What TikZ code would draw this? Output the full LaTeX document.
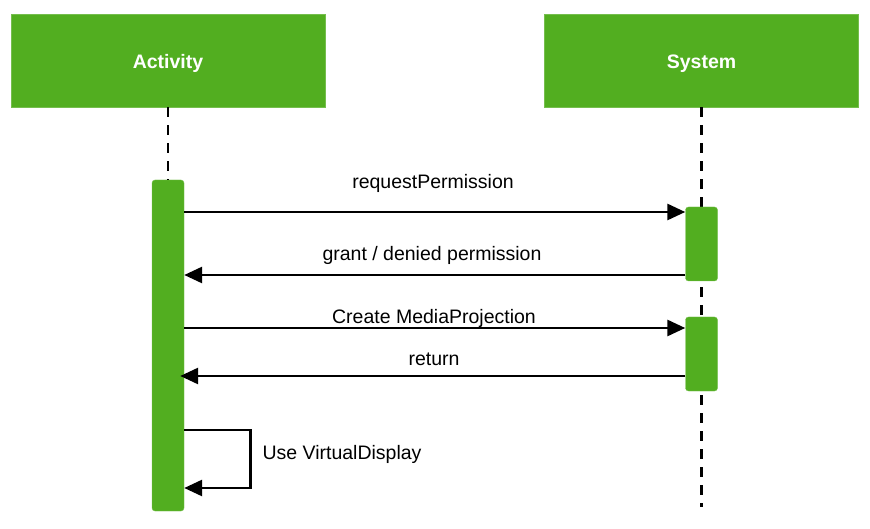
\documentclass[tikz,border=0pt]{standalone}
\usepackage{fontspec}
\setmainfont{Liberation Sans}
\usetikzlibrary{arrows.meta}

\definecolor{boxgreen}{RGB}{82,174,32}

\tikzset{
    actor/.style={fill=boxgreen, draw=boxgreen!80!white, minimum width=314pt, minimum height=93pt,
        text=white, text height=16pt, text depth=0pt, font=\fontsize{19.5}{23}\selectfont\bfseries},
    bar/.style={fill=boxgreen, draw=boxgreen!80!white, rounded corners=3pt, minimum width=32pt, inner sep=0pt},
    lifeline/.style={line width=2.8pt, dash pattern=on 10pt off 8pt},
    msg/.style={line width=2.8pt, -{Triangle[length=18pt,width=16pt]}},
    lbl/.style={font=\fontsize{19.5}{23}\selectfont}
}

\begin{document}
\begin{tikzpicture}[x=1pt, y=-1pt]
    \useasboundingbox (0,0) rectangle (870,529);

    % Kopfboxen
    \node[actor] (activity) at (168,60.5) {Activity};
    \node[actor] (system) at (701.5,60.5) {System};

    % Lebenslinien
    \coordinate (sysend) at (701.5,507);
    \node[bar, minimum height=331pt] (act) at (168,345.5) {};
    \draw[lifeline] (activity.south) -- (act.north);
    \draw[lifeline] (system.south) -- (sysend);

    % Aktivierungen System
    \node[bar, minimum height=74pt] (sys1) at (701.5,244) {};
    \node[bar, minimum height=74pt] (sys2) at (701.5,354) {};

    % Hoehen der Nachrichten
    \coordinate (m1) at (0,212);
    \coordinate (m2) at (0,275);
    \coordinate (m3) at (0,328);
    \coordinate (m4) at (0,376);
    \coordinate (s1) at (0,430);
    \coordinate (s2) at (0,488);

    % Nachrichten
    \draw[msg] (act.east |- m1) -- (sys1.west |- m1);
    \draw[msg] (sys1.west |- m2) -- (act.east |- m2);
    \draw[msg] (act.east |- m3) -- (sys2.west |- m3);
    \draw[msg] (sys2.west |- m4) -- ([xshift=-4pt]act.east |- m4);
    \draw[msg] (act.east |- s1) -- ++(66,0) |- (act.east |- s2);

    % Beschriftungen
    \node[lbl] (l1) at (433,183) {requestPermission};
    \node[lbl] (l2) at (432,255) {grant / denied permission};
    \node[lbl] (l3) at (434,318) {Create MediaProjection};
    \node[lbl] (l4) at (434,359) {return};
    \node[lbl, anchor=west] (l5) at (259,454) {Use VirtualDisplay};
\end{tikzpicture}
\end{document}
